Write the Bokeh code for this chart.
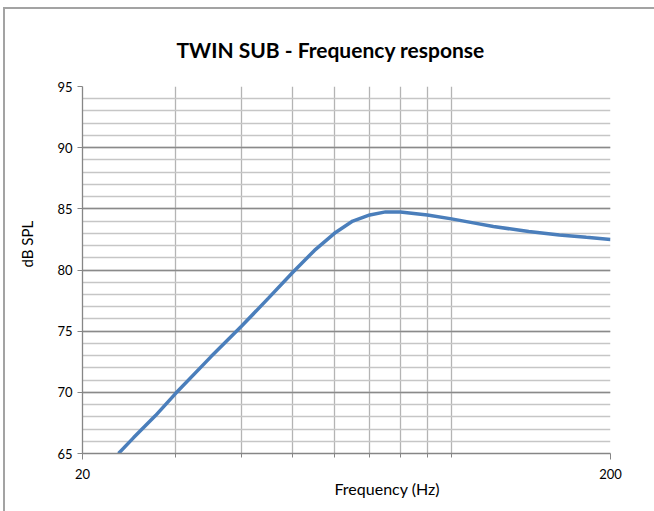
from bokeh.plotting import figure
from bokeh.models import Range1d, FixedTicker, PrintfTickFormatter, Title
from bokeh.embed import file_html
from bokeh.resources import INLINE

# ---- data ----
freq_hz = [23.4, 25, 27.5, 30, 35, 40, 45, 50, 55, 60, 65, 70, 75, 80,
           90, 100, 110, 120, 140, 160, 180, 200]
spl_db = [65.0, 66.3, 68.1, 69.9, 72.9, 75.4, 77.7, 79.8, 81.6, 83.0, 84.0,
          84.5, 84.75, 84.75, 84.5, 84.18, 83.85, 83.55, 83.15, 82.87, 82.67, 82.5]

y_major = [65, 70, 75, 80, 85, 90, 95]
y_minor = list(range(65, 96))
x_major = [20, 200]
x_minor = [30, 40, 50, 60, 70, 80, 90, 100]
x_grid_lines = [30, 40, 50, 60, 70, 80, 90, 100, 200]

title_text = "TWIN SUB - Frequency response"
x_label = "Frequency (Hz)"
y_label = "dB SPL"

FONT = "Lato"

p = figure(width=654, height=511, x_axis_type="log",
           x_range=Range1d(20, 200), y_range=Range1d(65, 95),
           output_backend="svg", toolbar_location=None,
           min_border_left=81, min_border_right=44,
           min_border_top=86, min_border_bottom=58)
p.outline_line_color = None
p.background_fill_color = "white"
p.border_fill_color = "white"
p.border_fill_alpha = 0.0
# chart-area border (left and top edges are the only ones inside the picture)
p.styles = {
    "background-image": "linear-gradient(#a3a3a3, #a3a3a3), "
                        "linear-gradient(#a3a3a3, #a3a3a3)",
    "background-size": "2px 100%, 100% 2px",
    "background-position": "3px 7px, 3px 7px",
    "background-repeat": "no-repeat, no-repeat",
}

# title
p.title.text = title_text
p.title.align = "left"
p.title.offset = 94
p.title.standoff = 49
p.title.text_font = FONT
p.title.text_font_style = "bold"
p.title.text_font_size = "21px"
p.title.text_color = "#000000"

# grids
p.xgrid.ticker = FixedTicker(ticks=x_grid_lines)
p.xgrid.grid_line_color = "#b4b4b4"
p.xgrid.grid_line_width = 1.3
p.ygrid.ticker = FixedTicker(ticks=y_major, minor_ticks=y_minor)
p.ygrid.grid_line_color = "#8a8a8a"
p.ygrid.grid_line_width = 1.3
p.ygrid.minor_grid_line_color = "#c6c6c6"
p.ygrid.minor_grid_line_width = 1.3

# axes
for ax in (p.xaxis[0], p.yaxis[0]):
    ax.axis_line_color = "#868686"
    ax.axis_line_width = 1.3
    ax.major_tick_line_color = "#868686"
    ax.minor_tick_line_color = "#868686"
    ax.major_tick_in = 0
    ax.minor_tick_in = 0
    ax.major_label_text_font = FONT
    ax.major_label_text_font_size = "13px"
    ax.major_label_text_color = "#000000"

p.xaxis.ticker = FixedTicker(ticks=x_major, minor_ticks=x_minor)
p.xaxis.formatter = PrintfTickFormatter(format="%d")
p.xaxis.major_tick_out = 6
p.xaxis.minor_tick_out = 4
p.xaxis.major_label_standoff = 9

p.yaxis.ticker = FixedTicker(ticks=y_major, minor_ticks=y_minor)
p.yaxis.major_tick_out = 5
p.yaxis.minor_tick_out = 0
p.yaxis.major_label_standoff = 5

# axis titles placed as side titles so they can be offset like the reference
p.add_layout(Title(text=x_label, align="left", offset=252, standoff=-10,
                   text_font=FONT, text_font_style="normal",
                   text_font_size="16px", text_color="#000000"), "below")
p.add_layout(Title(text=y_label, align="left", offset=186, standoff=34,
                   vertical_align="top",
                   text_font=FONT, text_font_style="normal",
                   text_font_size="15px", text_color="#000000"), "left")

# curve
p.line(freq_hz, spl_db, line_color="#4a7ebb", line_width=3.5)

open("out.html", "w").write(file_html(p, INLINE))
